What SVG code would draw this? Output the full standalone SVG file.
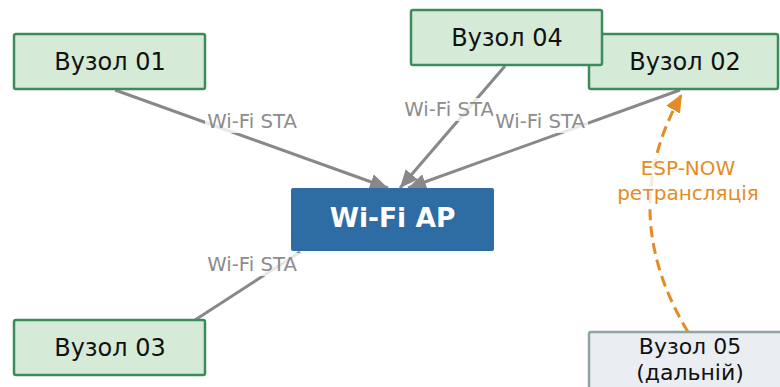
<svg xmlns="http://www.w3.org/2000/svg" width="780" height="387" viewBox="0 0 780 387">
<defs>
<style>
.node rect{fill:#d6ebd7;stroke:#3c8c5b;stroke-width:2.5}
.node text{font-family:"DejaVu Sans",sans-serif;font-size:24px;fill:#111;text-anchor:middle}
.edge{stroke:#888;stroke-width:3;fill:none}
.lbl{font-family:"DejaVu Sans",sans-serif;font-size:19.7px;fill:#8c8c8c;text-anchor:middle}
.lblbg{fill:#fff;opacity:0.8}
.esp{font-family:"DejaVu Sans",sans-serif;font-size:20px;fill:#e48c24;text-anchor:middle}
</style>
<marker id="ah" markerUnits="userSpaceOnUse" markerWidth="20" markerHeight="16" refX="18" refY="8" orient="auto">
<path d="M0,0 L18,8 L0,16 Z" fill="#888"/>
</marker>
<marker id="ao" markerUnits="userSpaceOnUse" markerWidth="20" markerHeight="16" refX="18" refY="8" orient="auto">
<path d="M0,0 L18,8 L0,16 Z" fill="#e48c24"/>
</marker>
</defs>
<rect width="780" height="387" fill="#fff"/>
<g id="connectors">
<line class="edge" x1="115" y1="90" x2="388" y2="188" marker-end="url(#ah)"/>
<line class="edge" x1="505" y1="66" x2="400" y2="188" marker-end="url(#ah)"/>
<line class="edge" x1="680" y1="90" x2="408" y2="188" marker-end="url(#ah)"/>
<line class="edge" x1="195" y1="320" x2="300" y2="252"/>
<path d="M688,332 Q615,211 682,94" fill="none" stroke="#e48c24" stroke-width="3" stroke-dasharray="11,6" marker-end="url(#ao)"/>
<rect class="lblbg" x="205" y="110" width="95" height="23"/>
<text class="lbl" x="252" y="128">Wi-Fi STA</text>
<rect class="lblbg" x="402" y="98" width="95" height="23"/>
<text class="lbl" x="449" y="116">Wi-Fi STA</text>
<rect class="lblbg" x="493" y="110" width="95" height="23"/>
<text class="lbl" x="540" y="128">Wi-Fi STA</text>
<rect class="lblbg" x="205" y="253" width="95" height="23"/>
<text class="lbl" x="252" y="271">Wi-Fi STA</text>
<rect class="lblbg" x="614" y="156" width="148" height="50"/>
<text class="esp" x="688" y="175">ESP-NOW</text>
<text class="esp" x="688" y="200">ретрансляція</text>
</g>
<g id="ap">
<rect x="291" y="188" width="203" height="63" rx="2" fill="#2e6ca4"/>
<text x="392.5" y="227" font-family="DejaVu Sans,sans-serif" font-size="26.5" font-weight="bold" fill="#fff" text-anchor="middle">Wi-Fi AP</text>
</g>
<g id="n01" class="node">
<rect x="14" y="34" width="191" height="55" rx="2"/>
<text x="110" y="70">Вузол 01</text>
</g>
<g id="n02" class="node">
<rect x="589" y="34" width="189" height="55" rx="2"/>
<text x="685" y="70">Вузол 02</text>
</g>
<g id="n04" class="node">
<rect x="411" y="10" width="191" height="55" rx="2"/>
<text x="507" y="46">Вузол 04</text>
</g>
<g id="n03" class="node">
<rect x="14" y="320" width="191" height="55" rx="2"/>
<text x="110" y="356">Вузол 03</text>
</g>
<g id="n05">
<rect x="589" y="332" width="196" height="62" rx="2" fill="#eaeef3" stroke="#8fa3a0" stroke-width="2.5"/>
<text x="690" y="354" font-family="DejaVu Sans,sans-serif" font-size="22" fill="#111" text-anchor="middle">Вузол 05</text>
<text x="690" y="380" font-family="DejaVu Sans,sans-serif" font-size="22" fill="#111" text-anchor="middle">(дальній)</text>
</g>
</svg>
